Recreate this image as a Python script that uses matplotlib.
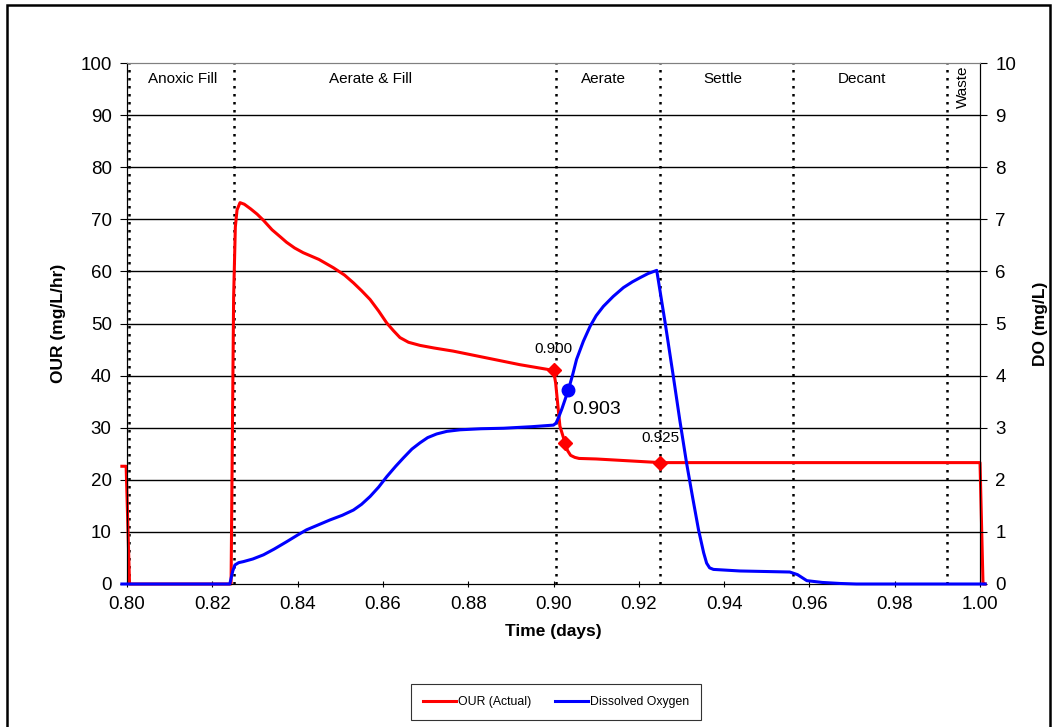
import matplotlib.pyplot as plt
from matplotlib.patches import Rectangle

plt.rcParams['font.family'] = ['Liberation Sans', 'DejaVu Sans']

# OUR (mg/L/hr) vs time (days)
our_t = [0.7988, 0.7998, 0.8006, 0.8244, 0.8250, 0.8254, 0.8258, 0.8265, 0.8275,
         0.8290, 0.8305, 0.8320, 0.8340, 0.8360, 0.8374, 0.8393, 0.8413, 0.8450,
         0.8484, 0.8510, 0.8531, 0.8550, 0.8570, 0.8590, 0.8609, 0.8625, 0.8640,
         0.8660, 0.8687, 0.8720, 0.8765, 0.8843, 0.8921, 0.9000, 0.9005, 0.9015,
         0.9027, 0.9033, 0.9040, 0.9050, 0.9060, 0.9100, 0.9250, 1.0000, 1.0007,
         1.0012]
our_v = [22.6, 22.6, 0.0, 0.0, 55.0, 68.5, 71.8, 73.2, 72.9,
         72.0, 71.0, 69.8, 68.0, 66.6, 65.6, 64.5, 63.6, 62.3,
         60.7, 59.3, 57.8, 56.3, 54.6, 52.4, 50.1, 48.6, 47.3,
         46.4, 45.8, 45.3, 44.7, 43.4, 42.1, 41.0, 38.6, 30.3,
         27.1, 25.6, 24.7, 24.3, 24.1, 24.0, 23.3, 23.3, 0.0,
         0.0]

# Dissolved oxygen (mg/L)
do_t = [0.7988, 0.8241, 0.8248, 0.8253, 0.8262, 0.8273, 0.8295, 0.8320, 0.8345,
        0.8374, 0.8400, 0.8421, 0.8450, 0.8476, 0.8505, 0.8531, 0.8550, 0.8570,
        0.8590, 0.8609, 0.8630, 0.8648, 0.8668, 0.8687, 0.8705, 0.8726, 0.8750,
        0.8781, 0.8830, 0.8883, 0.8950, 0.9000, 0.9006, 0.9012, 0.9020, 0.9035,
        0.9045, 0.9054, 0.9070, 0.9086, 0.9100, 0.9117, 0.9140, 0.9164, 0.9185,
        0.9203, 0.9222, 0.9242, 0.9262, 0.9281, 0.9296, 0.9312, 0.9326, 0.9340,
        0.9352, 0.9359, 0.9366, 0.9375, 0.9437, 0.9554, 0.9572, 0.9594, 0.9630,
        0.9672, 0.9710, 1.0012]
do_v = [0.0, 0.0, 0.25, 0.365, 0.41, 0.43, 0.48, 0.56, 0.67,
        0.81, 0.94, 1.04, 1.14, 1.23, 1.32, 1.42, 1.53, 1.68,
        1.86, 2.06, 2.26, 2.42, 2.59, 2.71, 2.81, 2.88, 2.93,
        2.96, 2.98, 2.99, 3.02, 3.05, 3.09, 3.20, 3.37, 3.73,
        4.02, 4.31, 4.66, 4.95, 5.15, 5.33, 5.52, 5.69, 5.80,
        5.88, 5.96, 6.02, 5.00, 3.98, 3.15, 2.32, 1.67, 1.04,
        0.60, 0.40, 0.31, 0.28, 0.25, 0.23, 0.18, 0.064, 0.03,
        0.01, 0.0, 0.0]

# highlighted points
our_mark_t = [0.9000, 0.9027, 0.9250]
our_mark_v = [41.0, 27.1, 23.3]
do_mark_t = [0.9035]
do_mark_v = [3.73]

phase_lines = [0.8005, 0.8250, 0.9007, 0.9250, 0.9562, 0.9923]
phase_names = ['Anoxic Fill', 'Aerate & Fill', 'Aerate', 'Settle', 'Decant', 'Waste']
phase_x = [0.8131, 0.8570, 0.9116, 0.9397, 0.9723, 0.9960]

fig = plt.figure(figsize=(10.53, 7.27), dpi=100)
ax = fig.add_axes([0.1206, 0.1967, 0.8101, 0.7166])
ax2 = ax.twinx()

ax.set_xlim(0.80, 1.00)
ax.set_ylim(0, 100)
ax2.set_ylim(0, 10)

for v in range(10, 100, 10):
    ax.axhline(v, color='black', lw=1, zorder=1)

for x in phase_lines:
    ax.axvline(x, color='black', lw=1.8, linestyle=(0, (1, 2.2)), zorder=2)

for name, x in zip(phase_names, phase_x):
    if name == 'Waste':
        ax.text(x, 95.4, name, rotation=90, ha='center', va='center', fontsize=11)
    else:
        ax.text(x, 97, name, ha='center', va='center', fontsize=11)

l1, = ax.plot(our_t, our_v, color='red', lw=2.2, clip_on=False, zorder=4)
ax.plot(our_mark_t, our_mark_v, 'D', color='red', ms=7, zorder=5)
l2, = ax2.plot(do_t, do_v, color='blue', lw=2.2, clip_on=False, zorder=4)
ax2.plot(do_mark_t, do_mark_v, 'o', color='blue', ms=9, zorder=5)

ax.text(0.9000, 45.2, '0.900', ha='center', va='center', fontsize=11)
ax.text(0.9102, 33.4, '0.903', ha='center', va='center', fontsize=14)
ax.text(0.9250, 28.0, '0.925', ha='center', va='center', fontsize=11)

ax.set_xticks([0.80 + 0.02 * i for i in range(11)])
ax.set_xticklabels(['%.2f' % (0.80 + 0.02 * i) for i in range(11)], fontsize=13.5)
ax.set_yticks(range(0, 101, 10))
ax.tick_params(axis='y', labelsize=13.5, length=5, direction='out', pad=6)
ax.tick_params(axis='x', length=5, direction='inout', pad=6)
ax2.set_yticks(range(0, 11))
ax2.tick_params(axis='y', labelsize=13.5, length=5, direction='out', pad=6)

ax.set_xlabel('Time (days)', fontsize=12.5, fontweight='bold', labelpad=8)
ax.set_ylabel('OUR (mg/L/hr)', fontsize=12.5, fontweight='bold', labelpad=10)
ax2.set_ylabel('DO (mg/L)', fontsize=12.5, fontweight='bold', labelpad=12)

for a in (ax, ax2):
    a.spines['top'].set_color('gray')
    a.spines['left'].set_color('black')
    a.spines['right'].set_color('black')
    a.spines['bottom'].set_color('black')

leg = fig.legend([l1, l2], ['OUR (Actual)', 'Dissolved Oxygen'], loc='center',
                 bbox_to_anchor=(556 / 1053, 1 - 702 / 727), ncol=2, fontsize=8.8,
                 frameon=True, fancybox=False, handlelength=2.7, handletextpad=0.15,
                 columnspacing=2.0, borderpad=1.0, borderaxespad=0)
leg.get_frame().set_edgecolor('black')
leg.get_frame().set_linewidth(0.8)

fig.patches.append(Rectangle((7 / 1053, -0.01), 1043 / 1053, 1 - 5 / 727 + 0.01,
                             transform=fig.transFigure, fill=False,
                             edgecolor='black', lw=1.8))

fig.savefig('out.png', dpi=100)
